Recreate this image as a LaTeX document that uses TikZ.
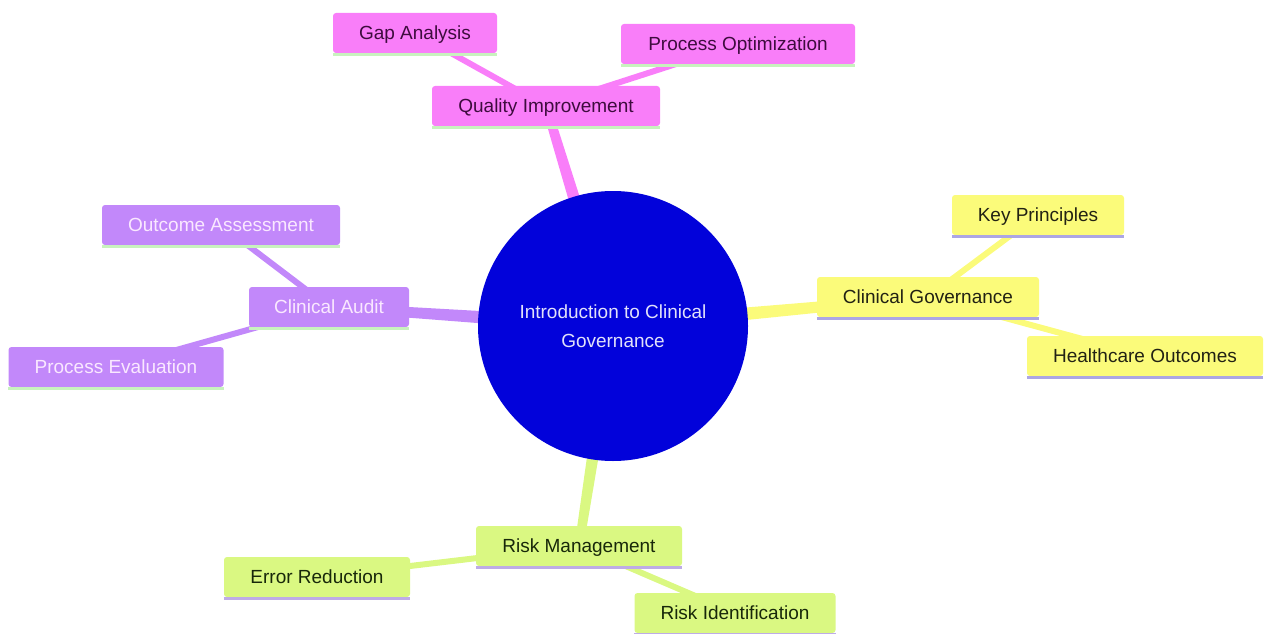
\documentclass[tikz,border=0pt]{standalone}
\usepackage{fontspec}
\setmainfont{Liberation Sans}
\usetikzlibrary{backgrounds,calc}
\definecolor{pinkf}{RGB}{249,126,249}
\definecolor{pinkt}{RGB}{62,12,62}
\definecolor{purpf}{RGB}{194,136,250}
\definecolor{purpt}{RGB}{250,232,255}
\definecolor{yelf}{RGB}{251,251,122}
\definecolor{yelt}{RGB}{34,34,20}
\definecolor{grnf}{RGB}{218,248,130}
\definecolor{grnt}{RGB}{24,40,10}
\definecolor{bluef}{RGB}{2,2,218}
\definecolor{bluet}{RGB}{225,225,250}
\definecolor{lgreen}{RGB}{200,242,190}
\definecolor{lav}{RGB}{172,166,228}
\definecolor{lavg}{RGB}{190,172,230}
\tikzset{
  box/.style={rectangle, rounded corners=3pt, inner xsep=0pt, inner ysep=0pt,
    minimum height=40pt, font=\fontsize{19}{23}\selectfont, text height=15.5pt, text depth=3pt},
  pinkbox/.style={box, fill=pinkf, text=pinkt},
  purpbox/.style={box, fill=purpf, text=purpt},
  yelbox/.style={box, fill=yelf, text=yelt},
  grnbox/.style={box, fill=grnf, text=grnt},
  sub/.style={line width=6pt},
  uline/.style={line width=3pt}
}
\newcommand{\taperedge}[3]{%
  \fill[#3] ($(#1.center)!7.5pt!90:(#2.center)$) -- ($(#1.center)!7.5pt!-90:(#2.center)$)
    -- ($(#2.center)!4.5pt!90:(#1.center)$) -- ($(#2.center)!4.5pt!-90:(#1.center)$) -- cycle;}
\begin{document}
\begin{tikzpicture}[x=1pt,y=-1pt]
\useasboundingbox (0,0) rectangle (1264,634);
\node[circle, fill=bluef, text=bluet, minimum size=270pt, inner sep=0pt,
  align=center, font=\fontsize{19}{29}\selectfont] (c) at (613,326)
  {Introduction to Clinical\\Governance};
% Quality Improvement branch
\node[pinkbox, minimum width=228pt] (qi) at (546,106) {Quality Improvement};
\node[pinkbox, minimum width=164pt] (gap) at (415,33) {Gap Analysis};
\node[pinkbox, minimum width=234pt] (po) at (738,44) {Process Optimization};
% Clinical Audit branch
\node[purpbox, minimum width=160pt] (ca) at (329,307) {Clinical Audit};
\node[purpbox, minimum width=238pt] (oa) at (221,225) {Outcome Assessment};
\node[purpbox, minimum width=215pt] (pe) at (116,367) {Process Evaluation};
% Clinical Governance branch
\node[yelbox, minimum width=222pt] (cg) at (928,297) {Clinical Governance};
\node[yelbox, minimum width=172pt] (kp) at (1038,215) {Key Principles};
\node[yelbox, minimum width=236pt] (ho) at (1145,356) {Healthcare Outcomes};
% Risk Management branch
\node[grnbox, minimum width=206pt] (rm) at (579,546) {Risk Management};
\node[grnbox, minimum width=186pt] (er) at (317,577) {Error Reduction};
\node[grnbox, minimum width=201pt] (ri) at (735,613) {Risk Identification};
% underlines
\foreach \n/\col in {qi/lgreen,gap/lgreen,po/lgreen,ca/lgreen,oa/lgreen,pe/lgreen,cg/lav,kp/lav,ho/lav,rm/lavg,er/lavg,ri/lavg}{
  \draw[uline, \col] ([yshift=-1.5pt]\n.south west) -- ([yshift=-1.5pt]\n.south east);
}
\begin{scope}[on background layer]
\taperedge{c}{qi}{pinkf}
\draw[sub, pinkf] (qi.center) -- (gap.center);
\draw[sub, pinkf] (qi.center) -- (po.center);
\taperedge{c}{ca}{purpf}
\draw[sub, purpf] (ca.center) -- (oa.center);
\draw[sub, purpf] (ca.center) -- (pe.center);
\taperedge{c}{cg}{yelf}
\draw[sub, yelf] (cg.center) -- (kp.center);
\draw[sub, yelf] (cg.center) -- (ho.center);
\taperedge{c}{rm}{grnf}
\draw[sub, grnf] (rm.center) -- (er.center);
\draw[sub, grnf] (rm.center) -- (ri.center);
\end{scope}
\end{tikzpicture}
\end{document}
